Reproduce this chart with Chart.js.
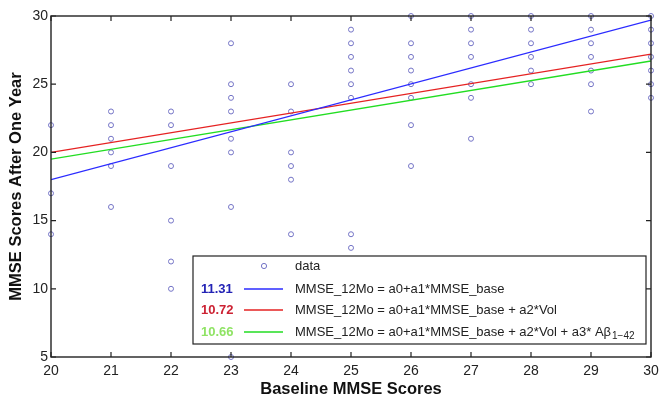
<!DOCTYPE html>
<html>
<head>
<meta charset="utf-8">
<script src="https://cdn.jsdelivr.net/npm/chart.js@4/dist/chart.umd.min.js"></script>
<style>
  html, body { margin: 0; padding: 0; background: #fff; }
  #wrap { position: relative; width: 665px; height: 407px; }
</style>
</head>
<body>
<div id="wrap"><canvas id="myChart" width="665" height="407"></canvas></div>
<script>
// baseline MMSE score -> follow-up scores observed at that baseline
const baselineScores = [20, 21, 22, 23, 24, 25, 26, 27, 28, 29, 30];
const followUpScores = [
  [22, 17, 14],
  [23, 22, 21, 20, 19, 16],
  [23, 22, 19, 15, 12, 10],
  [28, 25, 24, 23, 21, 20, 16, 5],
  [25, 23, 20, 19, 18, 14],
  [29, 28, 27, 26, 25, 24, 14, 13],
  [30, 28, 27, 26, 25, 24, 22, 19],
  [30, 29, 28, 27, 25, 24, 21],
  [30, 29, 28, 27, 26, 25],
  [30, 29, 28, 27, 26, 25, 23],
  [30, 29, 28, 27, 26, 25, 24]
];

// fitted lines, evaluated at the ends of the baseline range
const fitX = [20, 30];
const fitBase = [18.0, 29.7];
const fitVol = [20.0, 27.2];
const fitAbeta = [19.5, 26.7];

const fitErrors = ["11.31", "10.72", "10.66"];
const fitLabels = [
  "MMSE_12Mo = a0+a1*MMSE_base",
  "MMSE_12Mo = a0+a1*MMSE_base + a2*Vol",
  "MMSE_12Mo = a0+a1*MMSE_base + a2*Vol + a3* A\u03b2"
];

const lineColors = ["#2b2bff", "#e52222", "#22dd22"];
const errColors = ["#2323b5", "#cc2233", "#8fe364"];
const pointColor = "#7474c6";

var points = [];
baselineScores.forEach(function (b, i) {
  followUpScores[i].forEach(function (v) { points.push({ x: b, y: v }); });
});

function fitLine(ys) {
  return fitX.map(function (x, i) { return { x: x, y: ys[i] }; });
}

var FONT = "'Liberation Sans', Arial, Helvetica, sans-serif";

// frame and inward tick marks on all four sides
var frame = {
  id: 'frame',
  afterDatasetsDraw(chart) {
    const ctx = chart.ctx, a = chart.chartArea;
    const xs = chart.scales.x, ys = chart.scales.y;
    ctx.save();
    ctx.strokeStyle = '#222';
    ctx.lineWidth = 1.4;
    ctx.strokeRect(a.left, a.top, a.right - a.left, a.bottom - a.top);
    ctx.lineWidth = 1.2;
    ctx.beginPath();
    xs.ticks.forEach(function (t) {
      const px = xs.getPixelForValue(t.value);
      ctx.moveTo(px, a.bottom); ctx.lineTo(px, a.bottom - 5);
      ctx.moveTo(px, a.top); ctx.lineTo(px, a.top + 5);
    });
    ys.ticks.forEach(function (t) {
      const py = ys.getPixelForValue(t.value);
      ctx.moveTo(a.left, py); ctx.lineTo(a.left + 5, py);
      ctx.moveTo(a.right, py); ctx.lineTo(a.right - 5, py);
    });
    ctx.stroke();
    ctx.restore();
  }
};

// boxed legend with fit errors
var boxLegend = {
  id: 'boxLegend',
  afterDraw(chart) {
    const ctx = chart.ctx;
    const bx = 193, by = 256, bw = 453, bh = 88;
    ctx.save();
    ctx.fillStyle = '#fff';
    ctx.fillRect(bx, by, bw, bh);
    ctx.strokeStyle = '#222';
    ctx.lineWidth = 1.2;
    ctx.strokeRect(bx, by, bw, bh);

    ctx.textBaseline = 'middle';
    ctx.textAlign = 'left';
    // data row
    ctx.strokeStyle = pointColor;
    ctx.lineWidth = 1;
    ctx.beginPath();
    ctx.arc(264, 266, 2.6, 0, Math.PI * 2);
    ctx.stroke();
    ctx.fillStyle = '#222';
    ctx.font = '13px ' + FONT;
    ctx.fillText('data', 295, 266);

    const rows = [289, 310, 332];
    rows.forEach(function (ry, i) {
      ctx.font = 'bold 13px ' + FONT;
      ctx.fillStyle = errColors[i];
      ctx.fillText(fitErrors[i], 201, ry);
      ctx.strokeStyle = lineColors[i];
      ctx.lineWidth = 1.3;
      ctx.beginPath();
      ctx.moveTo(244, ry); ctx.lineTo(283, ry);
      ctx.stroke();
      ctx.font = '13px ' + FONT;
      ctx.fillStyle = '#222';
      ctx.fillText(fitLabels[i], 295, ry);
      if (i === 2) {
        const w = ctx.measureText(fitLabels[i]).width;
        ctx.font = '10px ' + FONT;
        ctx.fillText('1\u221242', 295 + w + 1, ry + 4);
      }
    });
    ctx.restore();
  }
};

var data = {
  datasets: [
    {
      type: 'scatter',
      label: 'data',
      data: points,
      pointStyle: 'circle',
      pointRadius: 2.5,
      pointBorderWidth: 1,
      borderColor: pointColor,
      backgroundColor: 'rgba(0,0,0,0)',
      clip: false,
      order: 2
    },
    {
      type: 'line',
      label: fitLabels[0],
      data: fitLine(fitBase),
      borderColor: lineColors[0],
      borderWidth: 1.3,
      pointRadius: 0,
      order: 1
    },
    {
      type: 'line',
      label: fitLabels[1],
      data: fitLine(fitVol),
      borderColor: lineColors[1],
      borderWidth: 1.3,
      pointRadius: 0,
      order: 1
    },
    {
      type: 'line',
      label: fitLabels[2],
      data: fitLine(fitAbeta),
      borderColor: lineColors[2],
      borderWidth: 1.3,
      pointRadius: 0,
      order: 1
    }
  ]
};

var options = {
  responsive: false,
  animation: false,
  layout: { padding: { left: 0, right: 14, top: 16, bottom: 0 } },
  plugins: {
    legend: { display: false },
    tooltip: { enabled: false }
  },
  scales: {
    x: {
      type: 'linear',
      min: 20,
      max: 30,
      grid: { display: false, drawTicks: false },
      border: { display: false },
      ticks: { stepSize: 1, padding: 6, color: '#222', font: { family: FONT, size: 14 } },
      title: {
        display: true,
        text: 'Baseline MMSE Scores',
        color: '#111',
        font: { family: FONT, size: 16.5, weight: 'bold' },
        padding: { top: 0, bottom: 8 }
      },
      afterFit(scale) { scale.height = 50; }
    },
    y: {
      type: 'linear',
      min: 5,
      max: 30,
      grid: { display: false, drawTicks: false },
      border: { display: false },
      ticks: { stepSize: 5, padding: 3, color: '#222', font: { family: FONT, size: 14 } },
      title: {
        display: true,
        text: 'MMSE Scores After One Year',
        color: '#111',
        font: { family: FONT, size: 16.5, weight: 'bold' },
        padding: { top: 7, bottom: 0 }
      },
      afterFit(scale) { scale.width = 51; }
    }
  }
};

new Chart(document.getElementById('myChart'), {
  type: 'scatter',
  data: data,
  options: options,
  plugins: [frame, boxLegend]
});
</script>
</body>
</html>
